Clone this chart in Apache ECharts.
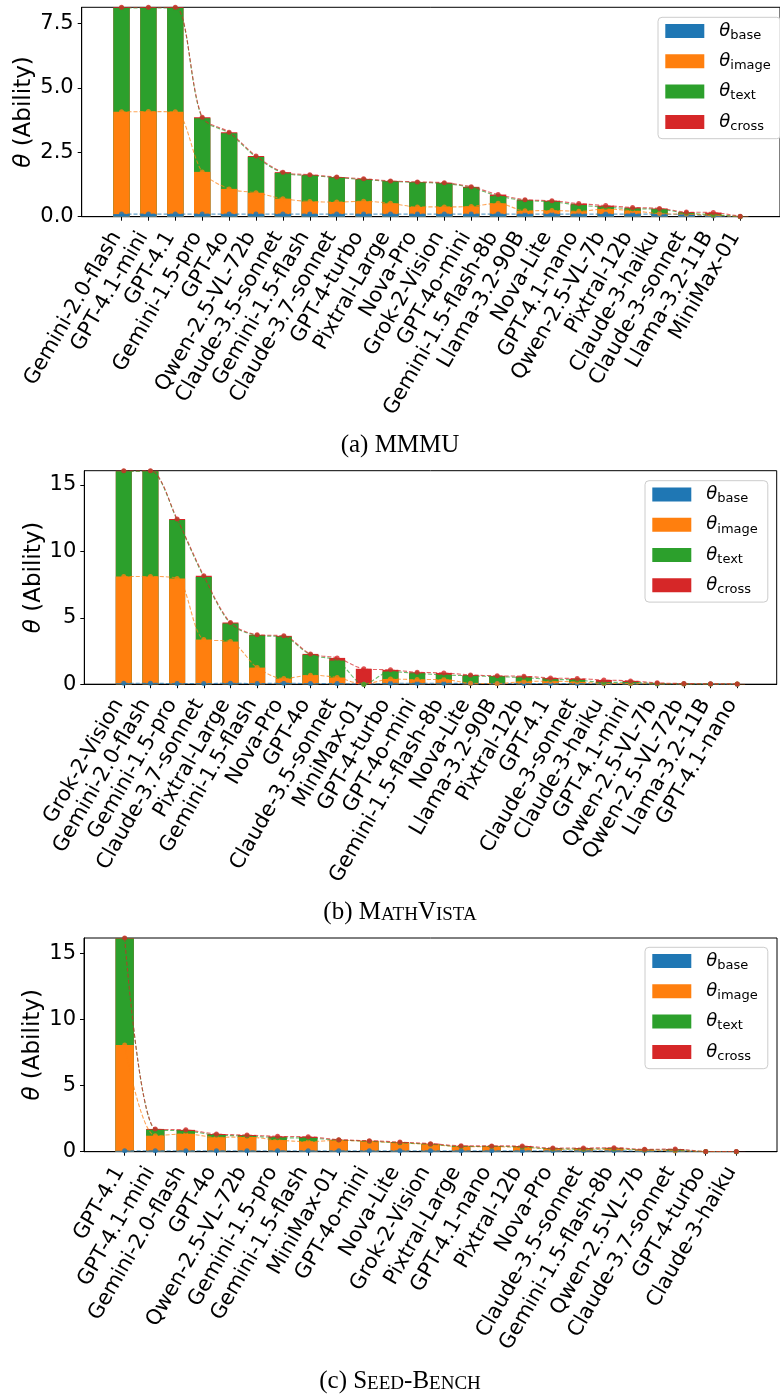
<!DOCTYPE html>
<html>
<head>
<meta charset="utf-8">
<script src="https://cdn.jsdelivr.net/npm/echarts@6/dist/echarts.min.js"></script>
<style>
  html, body { margin: 0; padding: 0; background: #fff; }
  #chart { width: 780px; height: 1395px; }
</style>
</head>
<body>
<div id="chart"></div>
<script>
// ---- MMMU: ability components per model ----
const mmmuModels = ['Gemini-2.0-flash', 'GPT-4.1-mini', 'GPT-4.1', 'Gemini-1.5-pro', 'GPT-4o', 'Qwen-2.5-VL-72b',
  'Claude-3.5-sonnet', 'Gemini-1.5-flash', 'Claude-3.7-sonnet', 'GPT-4-turbo', 'Pixtral-Large', 'Nova-Pro',
  'Grok-2-Vision', 'GPT-4o-mini', 'Gemini-1.5-flash-8b', 'Llama-3.2-90B', 'Nova-Lite', 'GPT-4.1-nano',
  'Qwen-2.5-VL-7b', 'Pixtral-12b', 'Claude-3-haiku', 'Claude-3-sonnet', 'Llama-3.2-11B', 'MiniMax-01'];
const mmmuBase  = [0.10, 0.10, 0.10, 0.10, 0.10, 0.10, 0.10, 0.10, 0.10, 0.10, 0.10, 0.10, 0.10, 0.10, 0.10, 0.10, 0.10, 0.10, 0.10, 0.10, 0.10, 0.08, 0.03, 0.00];
const mmmuImage = [3.97, 3.98, 3.97, 1.64, 0.98, 0.83, 0.60, 0.49, 0.47, 0.50, 0.42, 0.28, 0.28, 0.30, 0.42, 0.13, 0.14, 0.11, 0.20, 0.13, 0.02, 0.02, 0.03, 0.00];
const mmmuText  = [4.03, 4.02, 4.03, 2.08, 2.16, 1.39, 1.00, 1.01, 0.95, 0.84, 0.85, 0.95, 0.91, 0.73, 0.28, 0.40, 0.34, 0.24, 0.07, 0.08, 0.17, 0.04, 0.02, 0.01];
const mmmuCross = [0.03, 0.03, 0.03, 0.04, 0.04, 0.04, 0.03, 0.03, 0.02, 0.03, 0.02, 0.02, 0.03, 0.03, 0.06, 0.03, 0.04, 0.06, 0.06, 0.05, 0.03, 0.04, 0.08, 0.01];
const mmmuTicks = [0, 2.5, 5, 7.5];

// ---- MathVista ----
const mvModels = ['Grok-2-Vision', 'Gemini-2.0-flash', 'Gemini-1.5-pro', 'Claude-3.7-sonnet', 'Pixtral-Large',
  'Gemini-1.5-flash', 'Nova-Pro', 'GPT-4o', 'Claude-3.5-sonnet', 'MiniMax-01', 'GPT-4-turbo', 'GPT-4o-mini',
  'Gemini-1.5-flash-8b', 'Nova-Lite', 'Llama-3.2-90B', 'Pixtral-12b', 'GPT-4.1', 'Claude-3-sonnet',
  'Claude-3-haiku', 'GPT-4.1-mini', 'Qwen-2.5-VL-7b', 'Qwen-2.5-VL-72b', 'Llama-3.2-11B', 'GPT-4.1-nano'];
const mvBase  = [0.07, 0.07, 0.05, 0.05, 0.07, 0.05, 0.08, 0.05, 0.05, 0.00, 0.07, 0.07, 0.07, 0.05, 0.05, 0.05, 0.05, 0.05, 0.04, 0.03, 0.02, 0.01, 0.01, 0.00];
const mvImage = [8.04, 8.04, 7.91, 3.31, 3.14, 1.20, 0.34, 0.63, 0.45, 0.00, 0.32, 0.28, 0.28, 0.02, 0.00, 0.15, 0.17, 0.12, 0.02, 0.02, 0.01, 0.01, 0.00, 0.01];
const mvText  = [7.91, 7.91, 4.40, 4.70, 1.36, 2.42, 3.15, 1.53, 1.28, 0.00, 0.56, 0.46, 0.35, 0.56, 0.52, 0.30, 0.14, 0.15, 0.07, 0.10, 0.02, 0.01, 0.01, 0.00];
const mvCross = [0.05, 0.05, 0.07, 0.10, 0.07, 0.05, 0.07, 0.07, 0.20, 1.16, 0.13, 0.09, 0.15, 0.07, 0.06, 0.10, 0.11, 0.10, 0.19, 0.10, 0.05, 0.02, 0.01, 0.01];
const mvTicks = [0, 5, 10, 15];

// ---- SEED-Bench ----
const seedModels = ['GPT-4.1', 'GPT-4.1-mini', 'Gemini-2.0-flash', 'GPT-4o', 'Qwen-2.5-VL-72b', 'Gemini-1.5-pro',
  'Gemini-1.5-flash', 'MiniMax-01', 'GPT-4o-mini', 'Nova-Lite', 'Grok-2-Vision', 'Pixtral-Large', 'GPT-4.1-nano',
  'Pixtral-12b', 'Nova-Pro', 'Claude-3.5-sonnet', 'Gemini-1.5-flash-8b', 'Qwen-2.5-VL-7b', 'Claude-3.7-sonnet',
  'GPT-4-turbo', 'Claude-3-haiku'];
const seedBase  = [0.07, 0.07, 0.07, 0.07, 0.07, 0.07, 0.07, 0.07, 0.07, 0.07, 0.07, 0.07, 0.07, 0.07, 0.07, 0.07, 0.07, 0.05, 0.05, 0.00, 0.00];
const seedImage = [8.00, 1.14, 1.28, 1.02, 1.04, 0.81, 0.69, 0.79, 0.71, 0.59, 0.49, 0.31, 0.31, 0.26, 0.13, 0.11, 0.13, 0.08, 0.03, 0.01, 0.00];
const seedText  = [8.05, 0.45, 0.22, 0.17, 0.08, 0.18, 0.27, 0.02, 0.01, 0.01, 0.01, 0.01, 0.02, 0.03, 0.02, 0.03, 0.03, 0.01, 0.07, 0.00, 0.00];
const seedCross = [0.03, 0.06, 0.08, 0.08, 0.07, 0.10, 0.10, 0.03, 0.04, 0.06, 0.04, 0.06, 0.04, 0.07, 0.06, 0.07, 0.07, 0.04, 0.05, 0.01, 0.01];
const seedTicks = [0, 5, 10, 15];

const LEVELS = ['base', 'image', 'text', 'cross'];
const COLORS = { base: '#1f77b4', image: '#ff7f0e', text: '#2ca02c', cross: '#d62728' };

// Panel layout (pixel boxes of each plot area)
const panels = [
  { models: mmmuModels, base: mmmuBase, image: mmmuImage, text: mmmuText, cross: mmmuCross,
    yMax: 8.13, ticks: mmmuTicks, decimals: 1,
    grid: { left: 81.7, top: 7.3, width: 708.6, height: 209.4 }, legend: { left: 658, top: 17.3 },
    nameGap: 46, caption: '(a) MMMU', captionY: 445 },
  { models: mvModels, base: mvBase, image: mvImage, text: mvText, cross: mvCross,
    yMax: 16.07, ticks: mvTicks, decimals: 0,
    grid: { left: 84.3, top: 470.7, width: 692.4, height: 213.5 }, legend: { left: 645, top: 480.7 },
    nameGap: 39, caption: '(b) M{sc|ATH}V{sc|ISTA}', captionY: 912 },
  { models: seedModels, base: seedBase, image: seedImage, text: seedText, cross: seedCross,
    yMax: 16.15, ticks: seedTicks, decimals: 0,
    grid: { left: 84, top: 938, width: 693, height: 213.7 }, legend: { left: 645, top: 947.3 },
    nameGap: 39, caption: '(c) S{sc|EED}-B{sc|ENCH}', captionY: 1381 }
];
const CAPTION_X = 400;

function cumulative(p) {
  const out = {};
  let run = p.models.map(() => 0);
  LEVELS.forEach(k => {
    run = run.map((v, i) => v + p[k][i]);
    out[k] = run;
  });
  return out;
}

const grids = [], xAxes = [], yAxes = [], legends = [], series = [], graphics = [];

panels.forEach((p, pi) => {
  const n = p.models.length;
  const pad = 0.3 + 0.05 * (n - 1 + 0.6);
  const xMin = -pad, xMax = n - 1 + pad;
  const barW = 0.6 * p.grid.width / (xMax - xMin);
  const idx = p.models.map((_, j) => j);

  grids.push(Object.assign({ show: true, borderColor: '#000', borderWidth: 1, backgroundColor: 'transparent' }, p.grid));

  xAxes.push({
    type: 'value', gridIndex: pi, min: xMin, max: xMax,
    splitLine: { show: false },
    axisLine: { show: true, onZero: false, lineStyle: { color: '#000', width: 1 } },
    axisTick: { show: true, customValues: idx, length: 4, lineStyle: { color: '#000' } },
    axisLabel: {
      customValues: idx, formatter: v => p.models[Math.round(v)],
      rotate: 60, fontSize: 21, fontFamily: 'DejaVu Sans', color: '#000',
      margin: 8, padding: [0, 10, 10, 0]
    }
  });

  yAxes.push({
    type: 'value', gridIndex: pi, min: 0, max: p.yMax,
    splitLine: { show: false },
    axisLine: { show: true, onZero: false, lineStyle: { color: '#000', width: 1 } },
    axisTick: { show: true, customValues: p.ticks, length: 4, lineStyle: { color: '#000' } },
    axisLabel: {
      customValues: p.ticks, formatter: v => v.toFixed(p.decimals),
      fontSize: 21, fontFamily: 'DejaVu Sans', color: '#000', margin: 8
    },
    name: '{i|θ} (Ability)', nameLocation: 'middle', nameRotate: 90, nameGap: p.nameGap,
    nameMoveOverlap: false,
    nameTextStyle: {
      fontSize: 23, fontFamily: 'DejaVu Sans', color: '#000',
      rich: { i: { fontSize: 23, fontFamily: 'DejaVu Sans', fontStyle: 'italic', color: '#000' } }
    }
  });

  legends.push({
    data: LEVELS.map(k => ({ name: k, icon: 'rect' })),
    orient: 'vertical', left: p.legend.left, top: p.legend.top,
    itemWidth: 39, itemHeight: 14, itemGap: 10.3,
    padding: [4.7, 10, 5.8, 7.3],
    borderColor: '#cccccc', borderWidth: 1, borderRadius: 4,
    backgroundColor: 'rgba(255,255,255,0.8)',
    selectedMode: false,
    formatter: name => '{t|θ}{s|' + name + '}',
    textStyle: {
      color: '#000',
      rich: {
        t: { fontSize: 18, lineHeight: 22, fontFamily: 'DejaVu Sans', fontStyle: 'italic', color: '#000', padding: [0, 0, 0, 10] },
        s: { fontSize: 13, lineHeight: 13, fontFamily: 'DejaVu Sans', color: '#000', verticalAlign: 'bottom' }
      }
    }
  });

  const cum = cumulative(p);

  // Stacked bars: cumulative heights drawn back to front so each layer shows its own part.
  ['cross', 'text', 'image', 'base'].forEach(k => {
    series.push({
      type: 'bar', name: k, xAxisIndex: pi, yAxisIndex: pi,
      data: idx.map(j => [j, cum[k][j]]),
      barWidth: barW, barGap: '-100%',
      itemStyle: { color: COLORS[k] },
      silent: true, z: 2
    });
  });

  // Dashed trend lines through each cumulative level.
  LEVELS.forEach(k => {
    series.push({
      type: 'line', name: k + ' level', xAxisIndex: pi, yAxisIndex: pi,
      data: idx.map(j => [j, cum[k][j]]),
      smooth: 0.3, symbol: 'circle', symbolSize: 5, showSymbol: true,
      lineStyle: { color: COLORS[k], width: 1.1, type: [4, 2], opacity: 0.7 },
      itemStyle: { color: COLORS[k], opacity: 0.8 },
      silent: true, z: 3
    });
  });

  graphics.push({
    type: 'text', x: CAPTION_X, y: p.captionY,
    style: {
      text: p.caption, fill: '#000', align: 'center', verticalAlign: 'middle',
      fontSize: 25, lineHeight: 25, fontFamily: 'Liberation Serif',
      rich: { sc: { fontSize: 19, lineHeight: 20, fontFamily: 'Liberation Serif', fill: '#000', verticalAlign: 'bottom' } }
    }
  });
});

const chart = echarts.init(document.getElementById('chart'), null, { width: 780, height: 1395 });
chart.setOption({
  animation: false,
  backgroundColor: '#fff',
  grid: grids, xAxis: xAxes, yAxis: yAxes, legend: legends, series: series,
  graphic: graphics
});
</script>
</body>
</html>
